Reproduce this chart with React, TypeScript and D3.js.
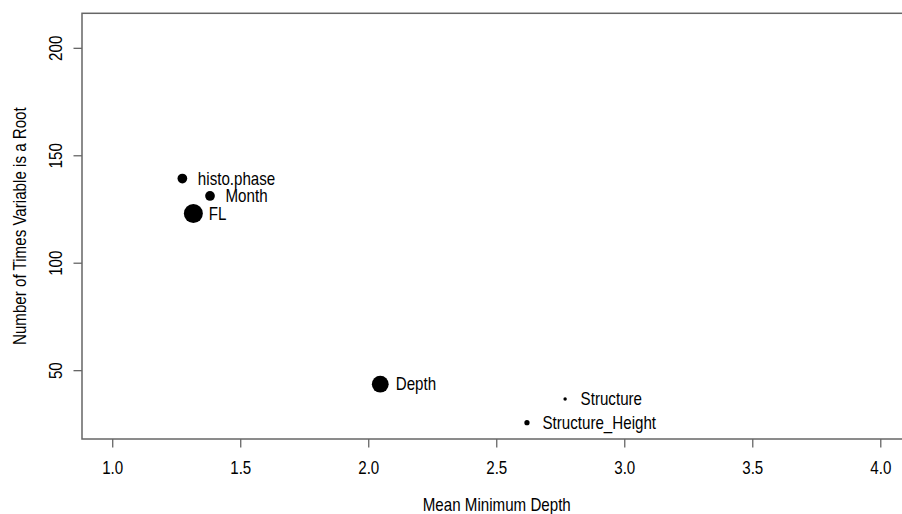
import React from "react";
import * as d3 from "d3";

// variable importance: mean min depth vs times a root
const variables = ["histo.phase", "Month", "FL", "Depth", "Structure", "Structure_Height"];
const meanMinDepth = [1.272, 1.38, 1.315, 2.045, 2.767, 2.618];
const timesARoot = [139.4, 131.3, 123.1, 43.7, 36.8, 25.8];
const nodeWeight = [24, 24, 92, 72, 3, 7];

const xTicks = [1.0, 1.5, 2.0, 2.5, 3.0, 3.5, 4.0];
const yTicks = [50, 100, 150, 200];

const W = 902;
const H = 514;
const left = 82;
const top = 13.3;
const right = 911.5;
const bottom = 439;

const FONT = "'Liberation Sans', Arial, Helvetica, sans-serif";
const FS = 17.5;
const SX = 0.865; // text in the reference is a bit narrow

const App = () => {
  const x = d3.scaleLinear().domain([0.88, 4.12]).range([left, right]);
  const y = d3.scaleLinear().domain([18.2, 216.3]).range([bottom, top]);
  const r = d3.scaleSqrt().domain([0, d3.max(nodeWeight) as number]).range([0, 9.5]);

  const points = variables.map((name, i) => ({
    name,
    cx: x(meanMinDepth[i]),
    cy: y(timesARoot[i]),
    rad: r(nodeWeight[i]),
  }));

  const axisColor = "#666";

  return (
    <div style={{ position: "absolute", left: 0, top: 0 }}>
      <svg width={W} height={H} style={{ display: "block", background: "#fff" }}>
        <rect
          x={left}
          y={top}
          width={right - left}
          height={bottom - top}
          fill="none"
          stroke={axisColor}
          strokeWidth={1.5}
        />

        {xTicks.map(t => (
          <g key={"x" + t}>
            <line x1={x(t)} x2={x(t)} y1={bottom} y2={bottom + 8.5} stroke={axisColor} strokeWidth={1.3} />
            <text
              transform={`translate(${x(t)},${473.5}) scale(${SX},1)`}
              textAnchor="middle"
              fontFamily={FONT}
              fontSize={FS}
              fill="#000"
            >
              {d3.format(".1f")(t)}
            </text>
          </g>
        ))}

        {yTicks.map(t => (
          <g key={"y" + t}>
            <line x1={left} x2={left - 8.5} y1={y(t)} y2={y(t)} stroke={axisColor} strokeWidth={1.3} />
            <text
              transform={`translate(${62},${y(t)}) rotate(-90) scale(${SX},1)`}
              textAnchor="middle"
              fontFamily={FONT}
              fontSize={FS}
              fill="#000"
            >
              {t}
            </text>
          </g>
        ))}

        <text
          transform={`translate(${(left + right) / 2},${511}) scale(${SX},1)`}
          textAnchor="middle"
          fontFamily={FONT}
          fontSize={FS}
          fill="#000"
        >
          Mean Minimum Depth
        </text>
        <text
          transform={`translate(${26},${(top + bottom) / 2}) rotate(-90) scale(${SX},1)`}
          textAnchor="middle"
          fontFamily={FONT}
          fontSize={FS}
          fill="#000"
        >
          Number of Times Variable is a Root
        </text>

        {points.map(p => (
          <g key={p.name}>
            <circle cx={p.cx} cy={p.cy} r={p.rad} fill="#000" />
            <text
              transform={`translate(${p.cx + 15.5},${p.cy + 6}) scale(${SX},1)`}
              fontFamily={FONT}
              fontSize={FS}
              fill="#000"
            >
              {p.name}
            </text>
          </g>
        ))}
      </svg>
    </div>
  );
};

export default App;
